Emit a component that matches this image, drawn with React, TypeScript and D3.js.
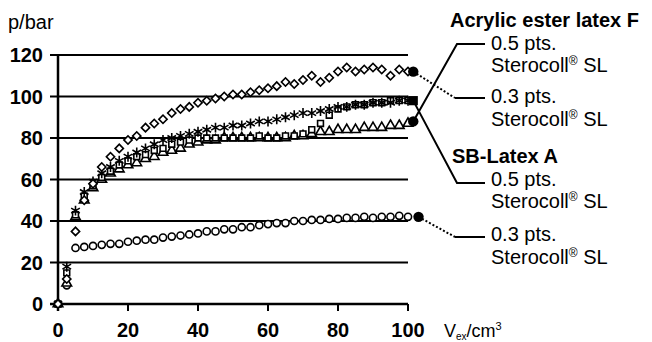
import React, { useRef, useEffect } from "react";
import * as d3 from "d3";

// sampling grid along V (cm3)
const xValues = [0, 2.5, 5, 7.5, 10, 12.5, 15, 17.5, 20, 22.5, 25, 27.5, 30, 32.5, 35, 37.5, 40, 42.5, 45, 47.5, 50, 52.5, 55, 57.5, 60, 62.5, 65, 67.5, 70, 72.5, 75, 77.5, 80, 82.5, 85, 87.5, 90, 92.5, 95, 97.5, 100];

// Acrylic ester latex F, 0.3 pts. (diamonds)
const acrylic03 = [0, 12, 35, 50, 58, 66, 71, 75, 79, 81, 85, 87, 89, 92, 94, 95, 97, 98, 99, 100, 101, 101, 102, 103, 104, 105, 107, 106, 108, 110, 107, 109, 112, 114, 112, 113, 114, 113, 110, 113, 112];
// SB-Latex A, 0.5 pts. (asterisks)
const sb05 = [0, 18, 45, 54, 59, 63, 66, 69, 71, 73, 75, 77, 79, 80, 81, 82, 83, 84, 85, 85, 86, 86, 87, 88, 88, 89, 90, 91, 92, 92, 93, 94, 95, 95, 96, 96, 97, 97, 97, 98, 98];
// squares overlapping the middle rows
const squares = [0, 15, 43, 52, 57, 61, 64, 67, 69, 71, 72, 74, 75, 77, 78, 79, 80, 80, 80, 80, 80, 80, 80, 81, 80, 80, 81, 81, 82, 84, 87, 91, 94, 95, 96, 96, 97, 97, 98, 98, 98];
// Acrylic ester latex F, 0.5 pts. (triangles)
const acrylic05 = [0, 10, 42, 50, 56, 60, 63, 65, 67, 68, 70, 71, 73, 74, 75, 77, 78, 79, 79, 80, 80, 80, 80, 80, 80, 80, 80, 81, 81, 82, 83, 83, 84, 84, 84, 85, 85, 85, 86, 86, 87];
// SB-Latex A, 0.3 pts. (circles)
const sb03 = [0, 9, 27, 27.5, 28, 28.5, 29, 29, 30, 30.5, 31, 31, 32, 32.5, 33, 33.5, 34, 35, 35, 36, 36, 37, 37, 38, 38.5, 39, 39, 40, 40, 40.5, 40.5, 41, 41, 41.5, 41.5, 42, 41.5, 42, 42, 42.5, 42];

// filled end markers
const endX = [101.5, 101.5, 101.5, 103];
const endY = [112, 98, 88, 42];
const endShape = ["circle", "square", "circle", "circle"];

const yTicks = [0, 20, 40, 60, 80, 100, 120];
const xTicks = [0, 20, 40, 60, 80, 100];

const FONT = "'Liberation Sans', Arial, sans-serif";

const Chart = ({ width = 652, height = 342 }) => {
  const svgRef = useRef(null);

  useEffect(() => {
    d3.select(svgRef.current).selectAll("*").remove();
    const svg = d3.select(svgRef.current);

    const x = d3.scaleLinear().domain([0, 100]).range([58, 408]);
    const y = d3.scaleLinear().domain([0, 120]).range([304, 55]);

    // grid lines
    svg.append("g")
      .selectAll("line")
      .data(yTicks)
      .enter()
      .append("line")
      .attr("x1", 50)
      .attr("x2", x(100))
      .attr("y1", d => y(d))
      .attr("y2", d => y(d))
      .attr("stroke", "#000")
      .attr("stroke-width", d => (d === 0 ? 2.5 : 2));

    // y axis
    svg.append("line")
      .attr("x1", x(0)).attr("x2", x(0))
      .attr("y1", y(120)).attr("y2", y(0) + 7)
      .attr("stroke", "#000").attr("stroke-width", 2.5);

    // x ticks
    svg.append("g")
      .selectAll("line")
      .data(xTicks.slice(1))
      .enter()
      .append("line")
      .attr("x1", d => x(d)).attr("x2", d => x(d))
      .attr("y1", y(0)).attr("y2", y(0) + 7)
      .attr("stroke", "#000").attr("stroke-width", 2);

    // tick labels
    svg.append("g")
      .selectAll("text")
      .data(yTicks)
      .enter()
      .append("text")
      .attr("x", 43)
      .attr("y", d => y(d) + 7)
      .attr("text-anchor", "end")
      .attr("font-family", FONT)
      .attr("font-size", 20)
      .attr("font-weight", "bold")
      .text(d => d);

    svg.append("g")
      .selectAll("text")
      .data(xTicks)
      .enter()
      .append("text")
      .attr("x", d => x(d))
      .attr("y", 337)
      .attr("text-anchor", "middle")
      .attr("font-family", FONT)
      .attr("font-size", 20)
      .attr("font-weight", "bold")
      .text(d => d);

    svg.append("text")
      .attr("x", 8).attr("y", 29)
      .attr("font-family", FONT).attr("font-size", 20)
      .text("p/bar");

    const xl = svg.append("text")
      .attr("x", 444).attr("y", 337)
      .attr("font-family", FONT).attr("font-size", 18);
    xl.append("tspan").text("V");
    xl.append("tspan").attr("font-size", 10).attr("dy", 3).text("ex");
    xl.append("tspan").attr("dy", -3).text("/cm");
    xl.append("tspan").attr("font-size", 11).attr("dy", -7).text("3");

    // data markers
    const series = [
      { values: sb03, type: d3.symbolCircle, size: 40, rot: 0 },
      { values: acrylic05, type: d3.symbolTriangle, size: 40, rot: 0 },
      { values: squares, type: d3.symbolSquare, size: 34, rot: 0 },
      { values: sb05, type: d3.symbolAsterisk, size: 70, rot: 0 },
      { values: acrylic03, type: d3.symbolSquare, size: 34, rot: 45 },
    ];

    series.forEach(s => {
      const sym = d3.symbol().type(s.type).size(s.size);
      svg.append("g")
        .selectAll("path")
        .data(s.values)
        .enter()
        .append("path")
        .attr("d", sym)
        .attr("transform", (d, i) => `translate(${x(xValues[i])},${y(d)}) rotate(${s.rot})`)
        .attr("fill", s.type === d3.symbolAsterisk ? "none" : "#fff")
        .attr("stroke", "#000")
        .attr("stroke-width", 1.6);
    });

    // leader lines to the legend
    const lead = d3.line();
    const solid = [
      [[x(endX[2]), y(endY[2])], [457, 44], [485, 44]],
      [[x(endX[1]), y(endY[1])], [457, 183], [485, 183]],
      [[455, 98], [485, 98]],
      [[455, 237], [485, 237]],
    ];
    solid.forEach(p => {
      svg.append("path").attr("d", lead(p))
        .attr("fill", "none").attr("stroke", "#000").attr("stroke-width", 2);
    });
    const dotted = [
      [[x(endX[0]), y(endY[0])], [455, 98]],
      [[x(endX[3]), y(endY[3])], [455, 237]],
    ];
    dotted.forEach(p => {
      svg.append("path").attr("d", lead(p))
        .attr("fill", "none").attr("stroke", "#000").attr("stroke-width", 2)
        .attr("stroke-dasharray", "2 2");
    });

    endX.forEach((ex, i) => {
      const t = endShape[i] === "square" ? d3.symbolSquare : d3.symbolCircle;
      svg.append("path")
        .attr("d", d3.symbol().type(t).size(85)())
        .attr("transform", `translate(${x(ex)},${y(endY[i])})`)
        .attr("fill", "#000");
    });

    // legend text
    const legend = [
      { t: "Acrylic ester latex F", x: 450, y: 27, bold: true },
      { t: "0.5 pts.", x: 491, y: 50 },
      { t: "Sterocoll", x: 491, y: 72, reg: true },
      { t: "0.3 pts.", x: 491, y: 103 },
      { t: "Sterocoll", x: 491, y: 126, reg: true },
      { t: "SB-Latex A", x: 452, y: 163, bold: true },
      { t: "0.5 pts.", x: 491, y: 186 },
      { t: "Sterocoll", x: 491, y: 208, reg: true },
      { t: "0.3 pts.", x: 491, y: 241 },
      { t: "Sterocoll", x: 491, y: 264, reg: true },
    ];
    legend.forEach(l => {
      const tx = svg.append("text")
        .attr("x", l.x).attr("y", l.y)
        .attr("font-family", FONT)
        .attr("font-size", 20)
        .attr("font-weight", l.bold ? "bold" : "normal");
      tx.append("tspan").text(l.t);
      if (l.reg) {
        tx.append("tspan").attr("font-size", 12).attr("dy", -7).text("®");
        tx.append("tspan").attr("dy", 7).text(" SL");
      }
    });
  }, [width, height]);

  return (
    <svg
      ref={svgRef}
      width={width}
      height={height}
      style={{ position: "absolute", left: 0, top: 0, background: "#fff" }}
    ></svg>
  );
};

export default function App() {
  return <Chart />;
}
